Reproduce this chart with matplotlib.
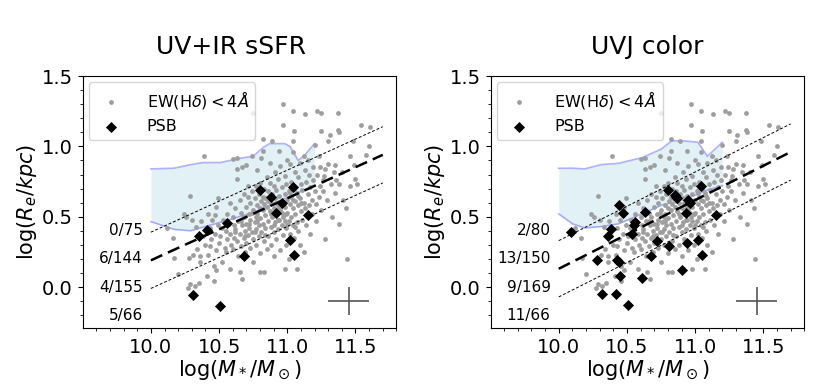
import numpy as np
import matplotlib.pyplot as plt

plt.rcParams["figure.facecolor"] = "w"

# gray sample, EW(Hd) < 4A (same objects in both panels)
gray_x = [
    10.12, 10.165, 10.17, 10.20, 10.24, 10.26, 10.27, 10.28, 10.29, 10.29, 10.30, 10.31, 10.32,
    10.33, 10.34, 10.35, 10.36, 10.36, 10.37, 10.38, 10.39, 10.40, 10.41, 10.42, 10.42, 10.43,
    10.43, 10.44, 10.45, 10.46, 10.46, 10.47, 10.47, 10.48, 10.48, 10.48, 10.49, 10.49, 10.50,
    10.51, 10.52, 10.52, 10.53, 10.54, 10.55, 10.55, 10.56, 10.56, 10.57, 10.58, 10.58, 10.58,
    10.59, 10.60, 10.60, 10.60, 10.61, 10.61, 10.62, 10.62, 10.63, 10.63, 10.63, 10.63, 10.64,
    10.64, 10.65, 10.65, 10.65, 10.66, 10.66, 10.67, 10.67, 10.67, 10.68, 10.68, 10.68, 10.69,
    10.69, 10.70, 10.70, 10.70, 10.70,
    10.71, 10.71, 10.72, 10.72, 10.73, 10.73, 10.73, 10.74, 10.74, 10.74, 10.75, 10.75, 10.75,
    10.75, 10.76, 10.76, 10.77, 10.77, 10.77, 10.78, 10.78, 10.78, 10.79, 10.79, 10.79, 10.80,
    10.80, 10.80, 10.80, 10.81, 10.81, 10.81, 10.82, 10.82, 10.82, 10.82, 10.83, 10.83, 10.83,
    10.84, 10.84, 10.84, 10.85, 10.85, 10.85, 10.86, 10.86, 10.86, 10.87, 10.87, 10.87, 10.88,
    10.88, 10.88, 10.89, 10.89, 10.89, 10.90, 10.90, 10.90, 10.90,
    10.91, 10.91, 10.91, 10.92, 10.92, 10.92, 10.93, 10.93, 10.93, 10.94, 10.94, 10.94, 10.95,
    10.95, 10.95, 10.96, 10.96, 10.96, 10.97, 10.97, 10.97, 10.97, 10.98, 10.98, 10.98, 10.98,
    10.99, 10.99, 10.99, 11.00, 11.00, 11.00, 11.01, 11.01, 11.01, 11.02, 11.02, 11.02, 11.03,
    11.03, 11.03, 11.04, 11.04, 11.04, 11.04, 11.04, 11.05, 11.05, 11.05, 11.06, 11.06, 11.06,
    11.07, 11.07, 11.07, 11.08, 11.08, 11.08, 11.09, 11.09, 11.09, 11.10, 11.10,
    11.11, 11.11, 11.12, 11.12, 11.12, 11.13, 11.13, 11.13, 11.14, 11.14, 11.15, 11.15, 11.16,
    11.16, 11.17, 11.17, 11.18, 11.18, 11.19, 11.19, 11.20, 11.20, 11.21, 11.21, 11.22, 11.22,
    11.23, 11.23, 11.24, 11.24, 11.25, 11.25, 11.25, 11.26, 11.26, 11.27, 11.28, 11.28, 11.29,
    11.30, 11.30, 11.31,
    11.32, 11.33, 11.34, 11.35, 11.35, 11.36, 11.37, 11.37, 11.38, 11.38, 11.38, 11.40, 11.41,
    11.43, 11.44, 11.46, 11.46, 11.48, 11.49, 11.50, 11.51, 11.54, 11.58, 11.60, 11.61,
    # extra points in the crowded core
    10.62, 10.66, 10.69, 10.72, 10.74, 10.76, 10.78, 10.80, 10.82, 10.84, 10.86, 10.88,
    10.90, 10.92, 10.94, 10.96, 10.98, 11.00, 11.02, 11.04, 11.06, 11.08, 11.10, 10.77,
    10.83, 10.87, 10.93, 10.99, 11.03, 10.71,
]
gray_y = [
    0.42, 0.35, 0.21, 0.09, 0.52, 0.50, -0.01, 0.21, 0.02, 0.65, 0.48, 0.23, 0.01,
    0.43, 0.27, 0.03, 0.18, 0.22, 0.47, 0.36, 0.93, 0.30, 0.08, 0.23, 0.52, 0.295,
    0.42, 0.34, 0.48, 0.15, 0.04, 0.51, 0.38, 0.12, 0.26, 0.57, 0.63, 0.44, 0.31,
    0.36, 0.18, 0.42, 0.48, 0.28, 0.25, 0.40, 0.34, 0.52, 0.45, 0.13, 0.38, 0.60,
    0.30, 0.91, 0.27, 0.50, 0.44, 0.35, 0.56, 0.41, 0.915, 0.84, 0.33, 0.77, 0.47,
    0.22, 0.105, 0.38, 0.62, 0.53, 0.29, 0.06, 0.44, 0.855, 0.35, 0.50, 0.66, 0.40,
    0.25, 0.87, 0.57, 0.45, 0.31,
    0.72, 0.37, 0.52, 0.42, 0.60, 0.28, 0.48, 0.68, 0.39, 0.93, 1.24, 0.18, 0.55,
    0.34, 0.46, 0.63, 0.41, 0.72, 0.30, 0.52, 0.58, 0.83, 0.44, 0.36, 0.66, 0.49,
    0.24, 0.11, 0.74, 0.61, 0.39, 0.92, 1.05, 0.55, 0.45, 0.97, 0.105, 0.70, 0.33,
    0.51, 0.63, 0.42, 0.78, 0.27, 0.57, 0.47, 0.68, 0.36, 0.54, 0.88, 0.74, 0.43,
    0.60, 0.30, 1.04, 0.50, 0.66, 0.72, 0.39, 0.22, 0.56,
    0.82, 0.46, 0.63, 0.69, 0.34, 0.52, 0.77, 0.58, 0.41, 0.97, 0.65, 0.48, 0.26,
    0.55, 0.86, 0.71, 0.44, 0.61, 1.30, 1.15, 0.50, 0.37, 0.125, 0.79, 0.66, 0.57,
    0.42, 0.73, 0.30, 0.62, 0.53, 0.90, 0.47, 0.68, 0.20, 0.875, 0.59, 0.38, 0.75,
    0.64, 0.50, 1.25, 1.04, 0.96, 0.56, 0.44, 1.11, 0.70, 0.35, 0.82, 0.61, 0.52,
    0.125, 0.67, 0.46, 0.78, 0.58, 0.40, 0.88, 0.63, 0.30, 0.73, 0.54,
    0.69, 0.48, 0.93, 0.60, 0.25, 1.23, 0.83, 0.56, 0.75, 0.44, 0.66, 0.90, 0.58,
    0.80, 0.71, 0.38, 0.62, 0.52, 0.85, 0.76, 1.01, 0.68, 0.47, 0.59, 1.25, 0.80,
    0.93, 0.64, 0.856, 0.72, 1.24, 1.11, 0.55, 0.76, 0.68, 0.79, 0.34, 0.84, 0.62,
    0.875, 1.04, 1.08,
    0.73, 0.50, 0.82, 0.67, 0.87, 0.76, 1.24, 1.12, 1.10, 0.73, 0.45, 0.82, 0.62,
    0.56, 0.20, 0.93, 0.72, 1.04, 0.87, 0.77, 0.73, 1.15, 0.94, 1.005, 1.14,
    0.39, 0.47, 0.36, 0.45, 0.53, 0.39, 0.47, 0.56, 0.64, 0.37, 0.61, 0.52,
    0.44, 0.60, 0.56, 0.53, 0.47, 0.44, 0.67, 0.62, 0.43, 0.65, 0.60, 0.50,
    0.59, 0.63, 0.48, 0.52, 0.70, 0.64,
]

# PSB galaxies
psb_x_ssfr = [10.31, 10.355, 10.41, 10.51, 10.56, 10.68, 10.80, 10.88, 10.92, 10.96,
              11.02, 11.04, 11.05, 11.15]
psb_y_ssfr = [-0.055, 0.36, 0.405, -0.135, 0.455, 0.22, 0.69, 0.64, 0.525, 0.60,
              0.335, 0.71, 0.23, 0.51]
psb_x_uvj = [10.09, 10.28, 10.32, 10.36, 10.38, 10.42, 10.43, 10.44, 10.45, 10.47,
             10.44, 10.51, 10.54, 10.55, 10.56, 10.61, 10.63, 10.68, 10.72, 10.80,
             10.81, 10.85, 10.87, 10.86, 10.90, 10.93, 10.94, 10.95, 10.96, 11.02,
             11.04, 11.05, 11.15]
psb_y_uvj = [0.39, 0.195, -0.05, 0.36, 0.41, -0.05, 0.195, 0.58, 0.08, 0.53,
             0.18, -0.13, 0.38, 0.44, 0.465, 0.065, 0.535, 0.22, 0.33, 0.69,
             0.295, 0.655, 0.63, 0.64, 0.12, 0.525, 0.315, 0.62, 0.595, 0.335,
             0.715, 0.23, 0.51]

# size-mass relation and +/- offsets
fit_x = [10.0, 11.7]
fit_y_ssfr = [0.19, 0.94]
fit_y_uvj = [0.13, 0.96]
fit_off = 0.2

# comparison region (shaded)
reg_x_ssfr = [10.0, 10.17, 10.29, 10.38, 10.51, 10.65, 10.75, 10.82, 10.87, 10.98, 11.02, 11.08, 11.13, 11.2]
reg_up_ssfr = [0.84, 0.845, 0.87, 0.885, 0.885, 0.915, 0.93, 0.99, 1.02, 1.02, 1.0, 0.90, 0.94, 1.02]
reg_lo_ssfr = [0.465, 0.41, 0.40, 0.425, 0.46, 0.50, 0.53, 0.56, 0.58, 0.63, 0.64, 0.67, 0.69, 0.72]
reg_x_uvj = [10.0, 10.1, 10.19, 10.31, 10.44, 10.61, 10.75, 10.83, 10.90, 11.02, 11.09, 11.2]
reg_up_uvj = [0.844, 0.845, 0.84, 0.87, 0.88, 0.92, 0.98, 1.04, 1.04, 1.03, 0.93, 1.03]
reg_lo_uvj = [0.52, 0.45, 0.42, 0.43, 0.45, 0.52, 0.58, 0.60, 0.62, 0.66, 0.69, 0.72]

titles = ["UV+IR sSFR", "UVJ color"]
title_x = [0.474, 0.5]
bin_labels_ssfr = ["0/75", "6/144", "4/155", "5/66"]
bin_labels_uvj = ["2/80", "13/150", "9/169", "11/66"]
label_y = [0.4, 0.2, 0.0, -0.2]

fig = plt.figure(figsize=(8.3, 3.88), dpi=100)
ax1 = fig.add_axes((0.0996, 0.155, 0.378, 0.649))
ax2 = fig.add_axes((0.591, 0.155, 0.378, 0.649))

panels = [
    (ax1, psb_x_ssfr, psb_y_ssfr, fit_y_ssfr, reg_x_ssfr, reg_up_ssfr, reg_lo_ssfr, bin_labels_ssfr),
    (ax2, psb_x_uvj, psb_y_uvj, fit_y_uvj, reg_x_uvj, reg_up_uvj, reg_lo_uvj, bin_labels_uvj),
]

for i, (ax, px, py, fy, rx, rup, rlo, blabels) in enumerate(panels):
    ax.fill_between(rx, rlo, rup, color="lightblue", alpha=0.35, lw=0, zorder=0)
    ax.plot(rx, rup, color="blue", alpha=0.3, lw=1.2, zorder=1)
    ax.plot(rx, rlo, color="blue", alpha=0.3, lw=1.2, zorder=1)

    ax.scatter(gray_x, gray_y, s=12, color="#9e9e9e", lw=0, zorder=2,
               label=r"EW(H$\delta$)$<4\AA$")
    ax.scatter(px, py, s=32, marker="D", color="k", lw=0, zorder=4, label="PSB")

    fy = np.array(fy)
    ax.plot(fit_x, fy, "k--", lw=1.8, dashes=(5, 2.5), zorder=3)
    ax.plot(fit_x, fy + fit_off, "k--", lw=0.7, dashes=(3, 2), zorder=3)
    ax.plot(fit_x, fy - fit_off, "k--", lw=0.7, dashes=(3, 2), zorder=3)

    for lab, ly in zip(blabels, label_y):
        ax.text(9.94, ly, lab, ha="right", va="center", fontsize=11)

    ax.errorbar([11.45], [-0.1], xerr=0.15, yerr=0.1, fmt="none",
                ecolor="#555555", elinewidth=1.2, capsize=0)

    ax.set_xlim(9.5, 11.8)
    ax.set_ylim(-0.29, 1.5)
    ax.set_xticks([10.0, 10.5, 11.0, 11.5])
    ax.set_yticks([0.0, 0.5, 1.0, 1.5])
    ax.set_xticks(np.arange(9.6, 11.8, 0.1), minor=True)
    ax.set_yticks(np.arange(-0.2, 1.5, 0.1), minor=True)
    ax.tick_params(labelsize=14)
    ax.set_xlabel(r"log($M_*/M_\odot$)", fontsize=15, labelpad=1)
    ax.set_ylabel(r"log($R_e/kpc$)", fontsize=15, labelpad=2)
    ax.set_title(titles[i], fontsize=18, pad=16, x=title_x[i])
    ax.legend(loc="upper left", fontsize=11.5, framealpha=0.8, handletextpad=1.2,
              borderaxespad=0.4)

fig.savefig("out.png", dpi=100)
